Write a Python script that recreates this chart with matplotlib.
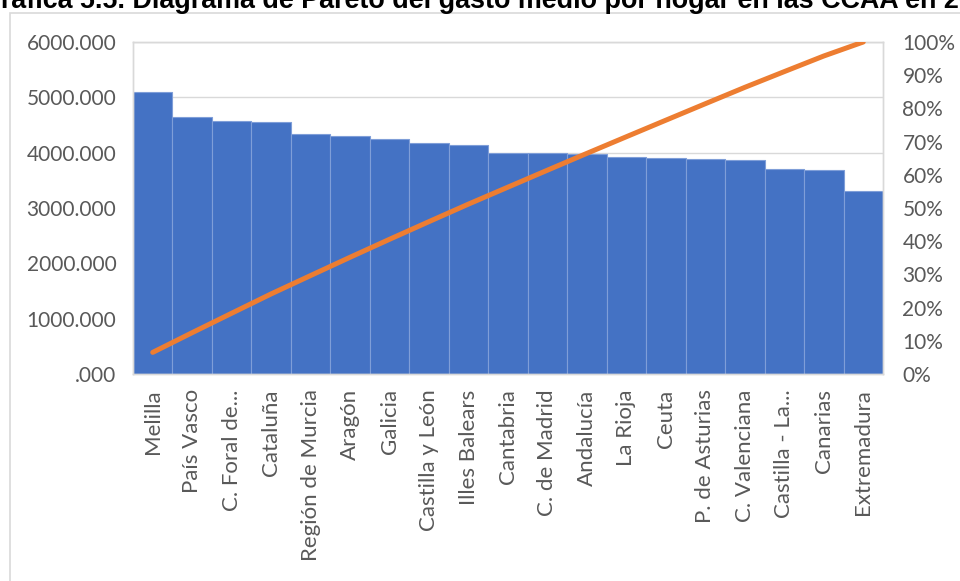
import matplotlib
matplotlib.use("Agg")
import matplotlib.pyplot as plt
from matplotlib.ticker import FuncFormatter, MultipleLocator
from matplotlib.patches import Rectangle
import numpy as np

categories = ["Melilla", "País Vasco", "C. Foral de...", "Cataluña", "Región de Murcia",
              "Aragón", "Galicia", "Castilla y León", "Illes Balears", "Cantabria",
              "C. de Madrid", "Andalucía", "La Rioja", "Ceuta", "P. de Asturias",
              "C. Valenciana", "Castilla - La...", "Canarias", "Extremadura"]
gasto = [5100, 4650, 4580, 4560, 4330, 4310, 4240, 4170, 4130, 4000,
         3995, 3970, 3920, 3900, 3885, 3860, 3710, 3680, 3300]
title = "Gráfica 5.5. Diagrama de Pareto del gasto medio por hogar en las CCAA en 2021"

cum = np.cumsum(gasto) / np.sum(gasto)

W, H = 960, 581
fig = plt.figure(figsize=(W / 100, H / 100), dpi=100)
fig.patch.set_facecolor("white")

# chart border
fig.patches.append(Rectangle((10 / W, -0.1), 1.2, 1.1 - 13 / H, transform=fig.transFigure,
                             fill=False, edgecolor="#D9D9D9", linewidth=1.2))

ax = fig.add_axes([133 / W, 1 - 374 / H, (883 - 133) / W, (374 - 42) / H])
tick_color = "#595959"
font = "Lato"

ax.bar(categories, gasto, width=1.0, color="#4472C4", edgecolor="#7F9ED8", linewidth=0.8, zorder=2)
ax.set_xlim(-0.5, len(categories) - 0.5)
ax.set_ylim(0, 6000)
ax.yaxis.set_major_locator(MultipleLocator(1000))
ax.yaxis.set_major_formatter(FuncFormatter(lambda v, p: ".000" if v == 0 else f"{int(v)}.000"))
ax.grid(axis="y", color="#D9D9D9", linewidth=1.0, zorder=0)
ax.set_axisbelow(True)
for s in ax.spines.values():
    s.set_color("#D9D9D9")
    s.set_linewidth(1.0)
ax.tick_params(axis="both", length=0, colors=tick_color)
ax.tick_params(axis="y", pad=12)
ax.tick_params(axis="x", pad=11)
for lab in ax.get_yticklabels():
    lab.set_fontfamily(font)
    lab.set_fontsize(15)
ax.set_xticks(range(len(categories)))
ax.set_xticklabels(categories, rotation=90, fontfamily=font, fontsize=16, color=tick_color)

ax2 = ax.twinx()
ax2.plot(categories, cum, color="#ED7D31", linewidth=3.6, solid_capstyle="round", zorder=5)
ax2.set_ylim(0, 1)
ax2.yaxis.set_major_locator(MultipleLocator(0.1))
ax2.yaxis.set_major_formatter(FuncFormatter(lambda v, p: f"{int(round(v * 100))}%"))
ax2.tick_params(axis="y", length=0, colors=tick_color, pad=14)
for lab in ax2.get_yticklabels():
    lab.set_fontfamily(font)
    lab.set_fontsize(15)
for s in ax2.spines.values():
    s.set_color("#D9D9D9")
    s.set_linewidth(1.0)

# title, partially cut off at the top and left
renderer = fig.canvas.get_renderer()
tmp = fig.text(0, 0, "G", fontfamily="Liberation Sans", fontweight="bold", fontsize=19.35)
gw = tmp.get_window_extent(renderer).width
tmp.remove()
fig.text((1 - gw) / W, 1 - 7.5 / H, title, fontfamily="Liberation Sans", fontweight="bold",
         fontsize=19.35, color="black", ha="left", va="baseline")

fig.savefig("out.png", dpi=100, facecolor="white")
